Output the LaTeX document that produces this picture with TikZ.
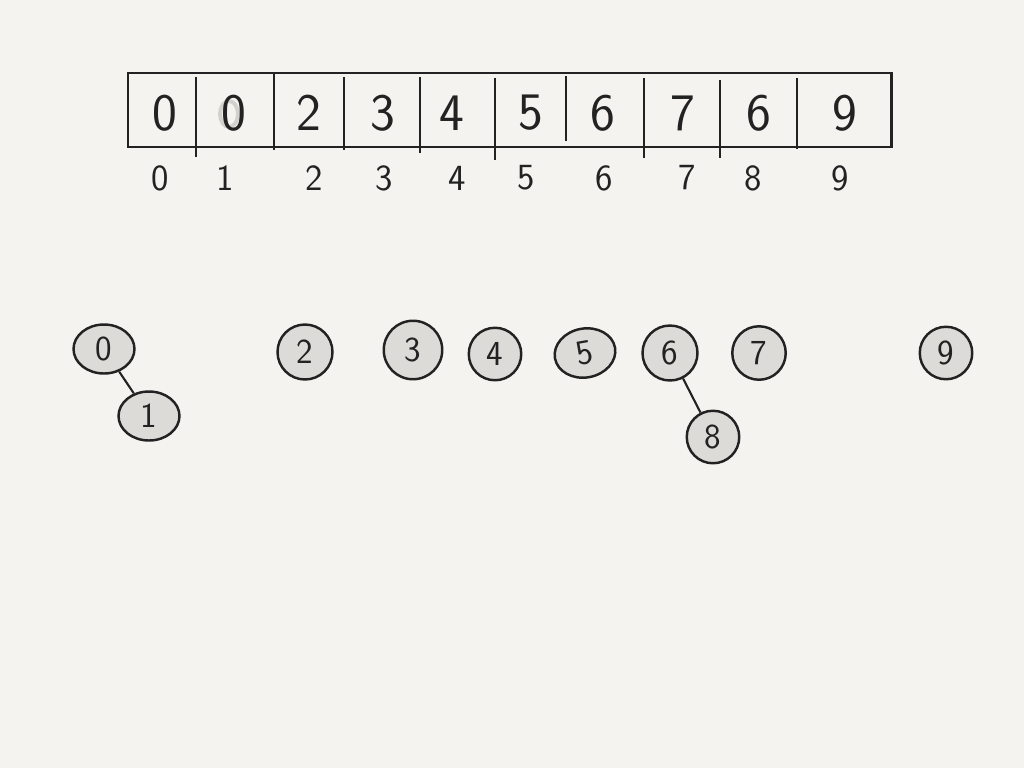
\documentclass[tikz,border=0pt]{standalone}
\usetikzlibrary{shapes.geometric}
\definecolor{paper}{HTML}{F4F3F0}
\definecolor{ink}{HTML}{222222}
\definecolor{nodefill}{HTML}{DCDBD7}
\definecolor{ghost}{HTML}{D2D1CD}
\begin{document}
\begin{tikzpicture}[x=0.02cm, y=-0.02cm,
  cellval/.style={font=\sffamily\fontsize{30}{30}\selectfont, text=ink},
  idx/.style={font=\sffamily\fontsize{21}{21}\selectfont, text=ink},
  setnode/.style={circle, draw=ink, fill=nodefill, line width=1.4pt, minimum size=1.1cm, inner sep=0pt, font=\sffamily\fontsize{20}{20}\selectfont, text=ink},
  wide/.style={ellipse, minimum width=1.22cm, minimum height=0.98cm},
  link/.style={draw=ink, line width=1.2pt}]
\fill[paper] (0,0) rectangle (1024,768);
\useasboundingbox (0,0) rectangle (1024,768);
% array box
\draw[ink, line width=1.7pt] (128,73) rectangle (891,147);
\foreach \x/\hi/\lo in {196/77/157, 274/72/150, 344/77/150, 420/77/153, 495/78/160, 566/76/141, 644/78/158, 720/80/158, 797/78/149}
  \draw[ink, line width=1.6pt] (\x,\hi) -- (\x,\lo);
% values
\draw[ghost, line width=2.2pt] (229,114) ellipse (9 and 13);
\foreach \x/\v [count=\i from 0] in {165/0, 234/0, 309/2, 383/3, 452/4, 531/5, 603/6, 683/7, 759/6, 845/9}
  \node[cellval] (v\i) at (\x,113) {\v};
% indices
\foreach \x [count=\i from 0] in {160, 225, 314, 384, 457, 526, 604, 687, 753, 840}
  \node[idx] (i\i) at (\x,178) {\i};
% disjoint sets
\node[setnode, wide] (n0) at (104,349) {0};
\node[setnode, wide] (n1) at (149,416) {1};
\node[setnode] (n2) at (305,352) {2};
\node[setnode, minimum size=1.17cm] (n3) at (413,350) {3};
\node[setnode, minimum size=1.05cm] (n4) at (495,354) {4};
\node[setnode, wide, rotate=10] (n5) at (585,353) {5};
\node[setnode] (n6) at (670,353) {6};
\node[setnode, minimum size=1.07cm] (n7) at (759,353) {7};
\node[setnode, minimum size=1.05cm] (n8) at (713,437) {8};
\node[setnode, minimum size=1.05cm] (n9) at (946,353) {9};
\draw[link] (n0) -- (n1);
\draw[link] (n6) -- (n8);
\end{tikzpicture}
\end{document}
